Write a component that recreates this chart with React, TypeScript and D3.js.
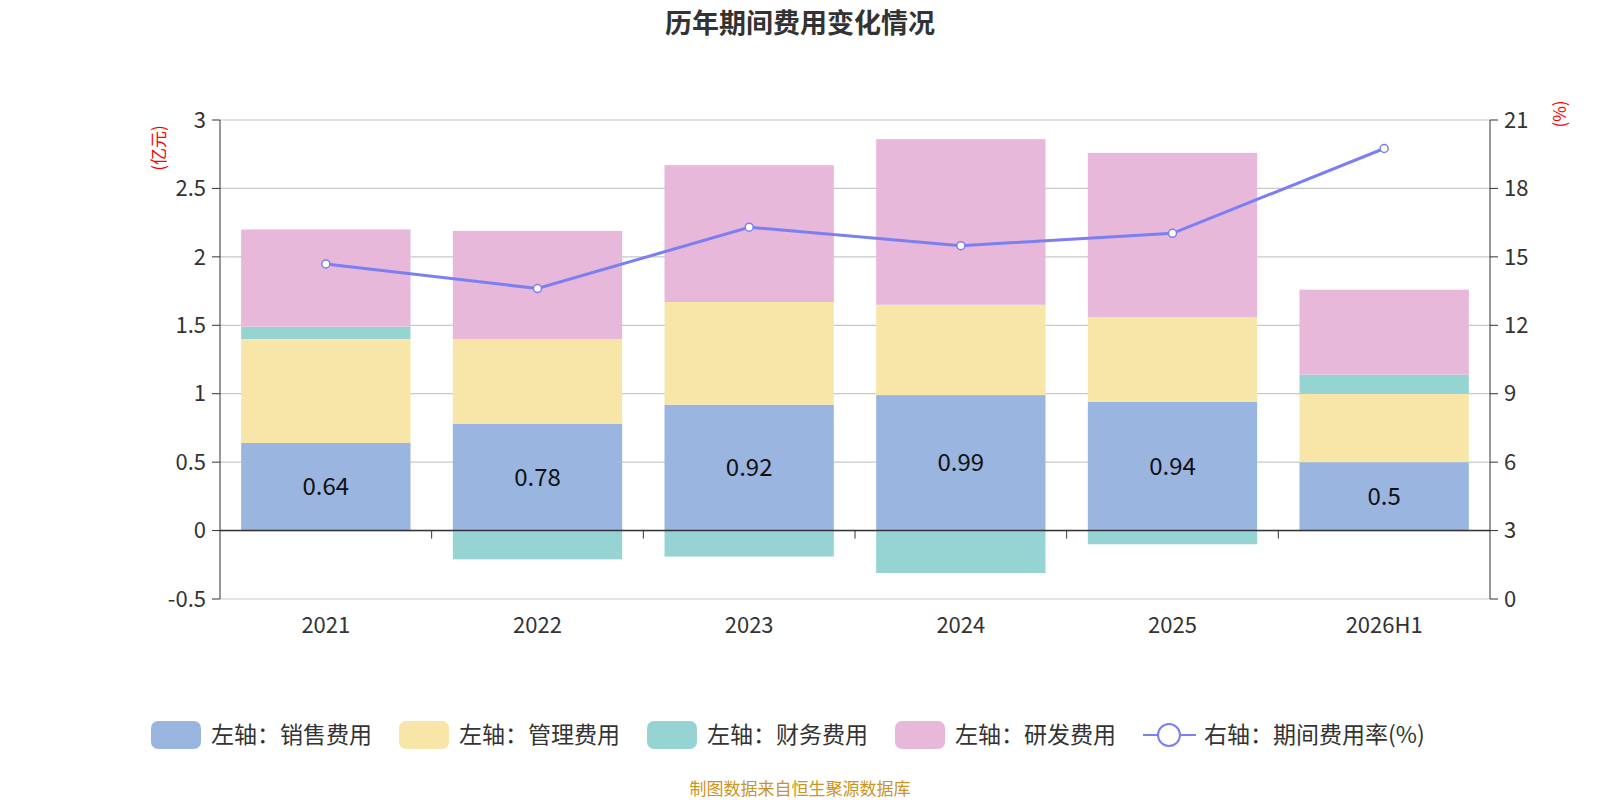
import React, { useEffect, useRef } from 'react';
import * as d3 from 'd3';

const categories = ['2021', '2022', '2023', '2024', '2025', '2026H1'];
const sales = [0.64, 0.78, 0.92, 0.99, 0.94, 0.5];
const mgmt = [0.76, 0.62, 0.75, 0.66, 0.62, 0.5];
const finance = [0.09, -0.21, -0.19, -0.31, -0.1, 0.14];
const rnd = [0.71, 0.79, 1.0, 1.21, 1.2, 0.62];
const rate = [14.69, 13.61, 16.3, 15.49, 16.03, 19.75];
const leftTicks = [-0.5, 0, 0.5, 1, 1.5, 2, 2.5, 3];
const rightTicks = [0, 3, 6, 9, 12, 15, 18, 21];

const seriesNames = ['左轴：销售费用', '左轴：管理费用', '左轴：财务费用', '左轴：研发费用'];
const colors = ['#9ab6e0', '#f8e6a8', '#96d3d3', '#e7b8d9'];
const lineColor = '#7b7ff2';
const FONT = '"Noto Sans CJK SC", "Noto Sans", sans-serif';

const App = () => {
  const svgRef = useRef<SVGSVGElement | null>(null);

  useEffect(() => {
    if (!svgRef.current) return;
    const svg = d3.select(svgRef.current);
    svg.selectAll('*').remove();
    svg.style('font-family', FONT);

    const left = 220, right = 1490, top = 120, bottom = 599;
    const x = d3.scaleBand().domain(categories).range([left, right]).paddingInner(0.2).paddingOuter(0.1);
    const band = d3.scaleBand().domain(categories).range([left, right]);
    const y = d3.scaleLinear().domain([-0.5, 3]).range([bottom, top]);
    const y2 = d3.scaleLinear().domain([0, 21]).range([bottom, top]);

    svg.append('text').attr('x', 800).attr('y', 33).attr('text-anchor', 'middle')
      .attr('font-size', 27).attr('font-weight', 'bold').attr('fill', '#333').text('历年期间费用变化情况');

    leftTicks.forEach(t => {
      svg.append('line').attr('x1', left).attr('x2', right).attr('y1', y(t)).attr('y2', y(t))
        .attr('stroke', '#c8c8c8').attr('stroke-width', 1.2);
      svg.append('line').attr('x1', left - 8).attr('x2', left).attr('y1', y(t)).attr('y2', y(t)).attr('stroke', '#333');
      svg.append('text').attr('x', left - 14).attr('y', y(t)).attr('dy', '0.35em').attr('text-anchor', 'end')
        .attr('font-size', 22).attr('fill', '#333').text(t);
    });
    rightTicks.forEach(t => {
      svg.append('line').attr('x1', right).attr('x2', right + 8).attr('y1', y2(t)).attr('y2', y2(t)).attr('stroke', '#333');
      svg.append('text').attr('x', right + 14).attr('y', y2(t)).attr('dy', '0.35em')
        .attr('font-size', 22).attr('fill', '#333').text(t);
    });

    categories.forEach((c, i) => {
      const bx = x(c)!, bw = x.bandwidth();
      let pos = 0, neg = 0;
      [sales[i], mgmt[i], finance[i], rnd[i]].forEach((v, k) => {
        let y0, y1;
        if (v >= 0) { y0 = pos; y1 = pos + v; pos = y1; } else { y0 = neg + v; y1 = neg; neg = y0; }
        svg.append('rect').attr('x', bx).attr('width', bw).attr('y', y(y1)).attr('height', y(y0) - y(y1))
          .attr('fill', colors[k]);
      });
      svg.append('text').attr('x', bx + bw / 2).attr('y', y(sales[i] / 2)).attr('dy', '0.35em')
        .attr('text-anchor', 'middle').attr('font-size', 24).attr('fill', '#111').text(sales[i]);
    });

    svg.append('line').attr('x1', left).attr('x2', left).attr('y1', top).attr('y2', bottom).attr('stroke', '#333');
    svg.append('line').attr('x1', right).attr('x2', right).attr('y1', top).attr('y2', bottom).attr('stroke', '#333');
    svg.append('line').attr('x1', left).attr('x2', right).attr('y1', y(0)).attr('y2', y(0)).attr('stroke', '#333').attr('stroke-width', 1.5);
    categories.forEach((c, i) => {
      if (i > 0) svg.append('line').attr('x1', band(c)!).attr('x2', band(c)!).attr('y1', y(0)).attr('y2', y(0) + 8).attr('stroke', '#333');
      svg.append('text').attr('x', band(c)! + band.bandwidth() / 2).attr('y', 633).attr('text-anchor', 'middle')
        .attr('font-size', 22).attr('fill', '#333').text(c);
    });

    svg.append('text').attr('transform', `translate(165,148) rotate(-90)`).attr('text-anchor', 'middle')
      .attr('font-size', 17).attr('fill', 'red').text('(亿元)');
    svg.append('text').attr('transform', `translate(1566,114) rotate(-90)`).attr('text-anchor', 'middle')
      .attr('font-size', 17).attr('fill', 'red').text('(%)');

    const line = d3.line<number>().x((_, i) => band(categories[i])! + band.bandwidth() / 2).y(d => y2(d));
    svg.append('path').attr('d', line(rate)).attr('fill', 'none').attr('stroke', lineColor).attr('stroke-width', 3);
    rate.forEach((r, i) => {
      svg.append('circle').attr('cx', band(categories[i])! + band.bandwidth() / 2).attr('cy', y2(r)).attr('r', 4)
        .attr('fill', '#fff').attr('stroke', lineColor).attr('stroke-width', 1.5);
    });

    const lx = [151, 399, 647, 895];
    seriesNames.forEach((n, k) => {
      svg.append('rect').attr('x', lx[k]).attr('y', 721).attr('width', 50).attr('height', 28).attr('rx', 7).attr('fill', colors[k]);
      svg.append('text').attr('x', lx[k] + 60).attr('y', 735).attr('dy', '0.35em').attr('font-size', 23).attr('fill', '#333').text(n);
    });
    svg.append('line').attr('x1', 1143).attr('x2', 1196).attr('y1', 735).attr('y2', 735).attr('stroke', lineColor).attr('stroke-width', 2);
    svg.append('circle').attr('cx', 1169).attr('cy', 735).attr('r', 11).attr('fill', '#fff').attr('stroke', lineColor).attr('stroke-width', 2);
    svg.append('text').attr('x', 1204).attr('y', 735).attr('dy', '0.35em').attr('font-size', 23).attr('fill', '#333').text('右轴：期间费用率(%)');

    svg.append('text').attr('x', 800).attr('y', 795).attr('text-anchor', 'middle').attr('font-size', 17)
      .attr('fill', '#c9941f').text('制图数据来自恒生聚源数据库');
  }, []);

  return (
    <div style={{ position: 'fixed', left: 0, top: 0 }}>
      <svg ref={svgRef} width={1600} height={800} style={{ display: 'block', background: '#fff' }}></svg>
    </div>
  );
};

export default App;
